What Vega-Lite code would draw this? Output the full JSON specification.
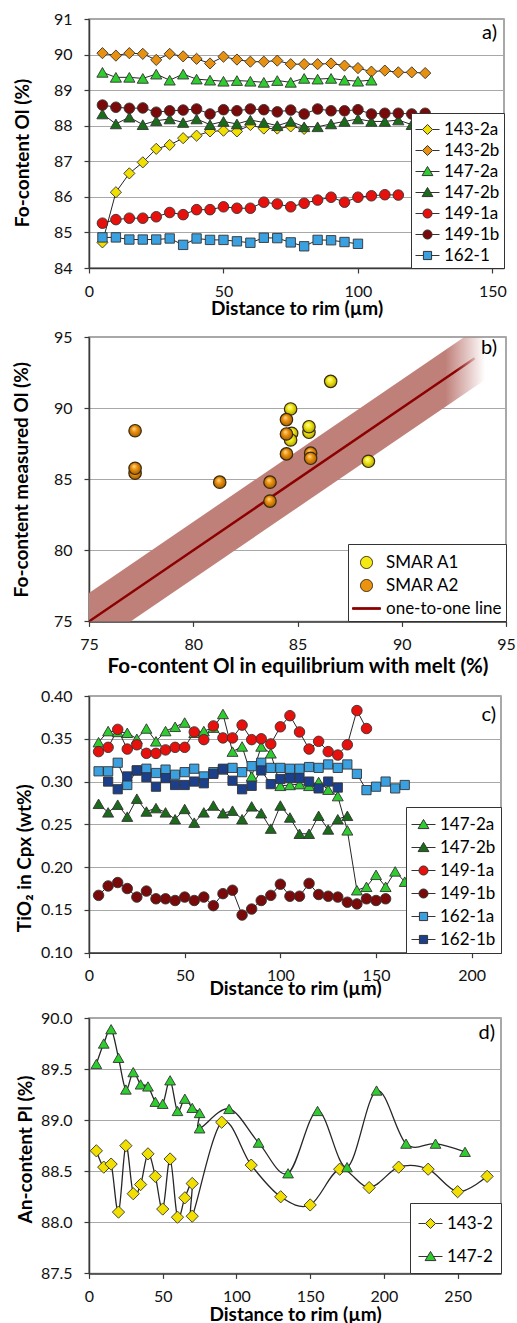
{
  "$schema": "https://vega.github.io/schema/vega-lite/v6.json",
  "background": "white",
  "padding": {"left": 11, "top": 10, "right": 4, "bottom": 0},
  "spacing": 9,
  "resolve": {
    "scale": {"x": "independent", "y": "independent", "fill": "independent", "shape": "independent", "stroke": "independent"},
    "axis": {"x": "independent", "y": "independent"},
    "legend": {"fill": "independent", "shape": "independent", "stroke": "independent"}
  },
  "config": {
    "font": "Lato",
    "view": {"stroke": "#8c8c8c", "strokeWidth": 1.5},
    "axis": {
      "labelFont": "Lato", "labelFontSize": 16, "labelColor": "#111",
      "titleFont": "Lato", "titleFontSize": 19, "titleFontWeight": "bold", "titleColor": "#000",
      "domainColor": "#3a3a3a", "domainWidth": 1.5, "tickColor": "#3a3a3a", "tickSize": 5, "tickWidth": 1.2,
      "gridColor": "#a8a8a8", "gridWidth": 1.2, "labelOverlap": false
    },
    "axisX": {"grid": false, "labelPadding": 10, "labelFlush": false, "titleBaseline": "middle"},
    "axisY": {"grid": true, "labelPadding": 12, "titleBaseline": "middle"},
    "legend": {"labelFont": "Lato", "labelColor": "#000", "fillColor": "white", "strokeColor": "#333", "symbolStrokeColor": "#333", "symbolStrokeWidth": 1, "symbolSize": 576, "labelOffset": 4, "title": null, "orient": "bottom-right", "offset": 0},
    "title": {"font": "Lato", "fontSize": 20, "fontWeight": "normal", "color": "#000"}
  },
  "vconcat": [
    {
      "width": 415, "height": 249,
      "title": {"text": "a)", "orient": "top", "anchor": "end", "frame": "group", "offset": -42, "baseline": "middle", "dx": -7},
      "data": {"values": [
        {"s":"143-2a","x":5,"v":84.72},{"s":"143-2a","x":10,"v":86.13},{"s":"143-2a","x":15,"v":86.66},{"s":"143-2a","x":20,"v":86.97},{"s":"143-2a","x":25,"v":87.35},{"s":"143-2a","x":30,"v":87.46},{"s":"143-2a","x":35,"v":87.65},{"s":"143-2a","x":40,"v":87.72},{"s":"143-2a","x":45,"v":87.84},{"s":"143-2a","x":50,"v":87.86},{"s":"143-2a","x":55,"v":87.84},{"s":"143-2a","x":60,"v":88.02},{"s":"143-2a","x":65,"v":87.92},{"s":"143-2a","x":70,"v":87.92},{"s":"143-2a","x":75,"v":87.98},{"s":"143-2a","x":80,"v":87.91},
        {"s":"143-2b","x":5,"v":90.04},{"s":"143-2b","x":10,"v":89.97},{"s":"143-2b","x":15,"v":90.04},{"s":"143-2b","x":20,"v":90.02},{"s":"143-2b","x":25,"v":89.85},{"s":"143-2b","x":30,"v":90.02},{"s":"143-2b","x":35,"v":89.95},{"s":"143-2b","x":40,"v":89.88},{"s":"143-2b","x":45,"v":89.75},{"s":"143-2b","x":50,"v":89.94},{"s":"143-2b","x":55,"v":89.86},{"s":"143-2b","x":60,"v":89.8},{"s":"143-2b","x":65,"v":89.8},{"s":"143-2b","x":70,"v":89.83},{"s":"143-2b","x":75,"v":89.73},{"s":"143-2b","x":80,"v":89.73},{"s":"143-2b","x":85,"v":89.73},{"s":"143-2b","x":90,"v":89.75},{"s":"143-2b","x":95,"v":89.69},{"s":"143-2b","x":100,"v":89.62},{"s":"143-2b","x":105,"v":89.52},{"s":"143-2b","x":110,"v":89.55},{"s":"143-2b","x":115,"v":89.5},{"s":"143-2b","x":120,"v":89.5},{"s":"143-2b","x":125,"v":89.48},
        {"s":"147-2a","x":5,"v":89.5},{"s":"147-2a","x":10,"v":89.36},{"s":"147-2a","x":15,"v":89.36},{"s":"147-2a","x":20,"v":89.33},{"s":"147-2a","x":25,"v":89.45},{"s":"147-2a","x":30,"v":89.28},{"s":"147-2a","x":35,"v":89.45},{"s":"147-2a","x":40,"v":89.31},{"s":"147-2a","x":45,"v":89.28},{"s":"147-2a","x":50,"v":89.25},{"s":"147-2a","x":55,"v":89.27},{"s":"147-2a","x":60,"v":89.25},{"s":"147-2a","x":65,"v":89.22},{"s":"147-2a","x":70,"v":89.27},{"s":"147-2a","x":75,"v":89.22},{"s":"147-2a","x":80,"v":89.33},{"s":"147-2a","x":85,"v":89.31},{"s":"147-2a","x":90,"v":89.33},{"s":"147-2a","x":95,"v":89.28},{"s":"147-2a","x":100,"v":89.25},{"s":"147-2a","x":105,"v":89.28},
        {"s":"147-2b","x":5,"v":88.33},{"s":"147-2b","x":10,"v":88.05},{"s":"147-2b","x":15,"v":88.24},{"s":"147-2b","x":20,"v":88.03},{"s":"147-2b","x":25,"v":88.14},{"s":"147-2b","x":30,"v":88.19},{"s":"147-2b","x":35,"v":88.09},{"s":"147-2b","x":40,"v":88.19},{"s":"147-2b","x":45,"v":88.03},{"s":"147-2b","x":50,"v":88.12},{"s":"147-2b","x":55,"v":88.05},{"s":"147-2b","x":60,"v":88.16},{"s":"147-2b","x":65,"v":88.09},{"s":"147-2b","x":70,"v":88.0},{"s":"147-2b","x":75,"v":88.12},{"s":"147-2b","x":80,"v":87.97},{"s":"147-2b","x":85,"v":87.97},{"s":"147-2b","x":90,"v":88.05},{"s":"147-2b","x":95,"v":88.12},{"s":"147-2b","x":100,"v":88.19},{"s":"147-2b","x":105,"v":88.12},{"s":"147-2b","x":110,"v":88.12},{"s":"147-2b","x":115,"v":88.16},{"s":"147-2b","x":120,"v":88.03},
        {"s":"149-1a","x":5,"v":85.26},{"s":"149-1a","x":10,"v":85.36},{"s":"149-1a","x":15,"v":85.4},{"s":"149-1a","x":20,"v":85.4},{"s":"149-1a","x":25,"v":85.44},{"s":"149-1a","x":30,"v":85.56},{"s":"149-1a","x":35,"v":85.5},{"s":"149-1a","x":40,"v":85.64},{"s":"149-1a","x":45,"v":85.64},{"s":"149-1a","x":50,"v":85.72},{"s":"149-1a","x":55,"v":85.68},{"s":"149-1a","x":60,"v":85.68},{"s":"149-1a","x":65,"v":85.85},{"s":"149-1a","x":70,"v":85.8},{"s":"149-1a","x":75,"v":85.72},{"s":"149-1a","x":80,"v":85.82},{"s":"149-1a","x":85,"v":85.91},{"s":"149-1a","x":90,"v":85.99},{"s":"149-1a","x":95,"v":85.85},{"s":"149-1a","x":100,"v":85.99},{"s":"149-1a","x":105,"v":86.03},{"s":"149-1a","x":110,"v":86.06},{"s":"149-1a","x":115,"v":86.05},
        {"s":"149-1b","x":5,"v":88.58},{"s":"149-1b","x":10,"v":88.52},{"s":"149-1b","x":15,"v":88.49},{"s":"149-1b","x":20,"v":88.5},{"s":"149-1b","x":25,"v":88.38},{"s":"149-1b","x":30,"v":88.42},{"s":"149-1b","x":35,"v":88.44},{"s":"149-1b","x":40,"v":88.47},{"s":"149-1b","x":45,"v":88.33},{"s":"149-1b","x":50,"v":88.45},{"s":"149-1b","x":55,"v":88.42},{"s":"149-1b","x":60,"v":88.47},{"s":"149-1b","x":65,"v":88.45},{"s":"149-1b","x":70,"v":88.39},{"s":"149-1b","x":75,"v":88.44},{"s":"149-1b","x":80,"v":88.33},{"s":"149-1b","x":85,"v":88.47},{"s":"149-1b","x":90,"v":88.42},{"s":"149-1b","x":95,"v":88.42},{"s":"149-1b","x":100,"v":88.45},{"s":"149-1b","x":105,"v":88.33},{"s":"149-1b","x":110,"v":88.35},{"s":"149-1b","x":115,"v":88.35},{"s":"149-1b","x":120,"v":88.33},{"s":"149-1b","x":125,"v":88.35},
        {"s":"162-1","x":5,"v":84.86},{"s":"162-1","x":10,"v":84.86},{"s":"162-1","x":15,"v":84.8},{"s":"162-1","x":20,"v":84.8},{"s":"162-1","x":25,"v":84.8},{"s":"162-1","x":30,"v":84.83},{"s":"162-1","x":35,"v":84.65},{"s":"162-1","x":40,"v":84.83},{"s":"162-1","x":45,"v":84.79},{"s":"162-1","x":50,"v":84.79},{"s":"162-1","x":55,"v":84.75},{"s":"162-1","x":60,"v":84.71},{"s":"162-1","x":65,"v":84.85},{"s":"162-1","x":70,"v":84.84},{"s":"162-1","x":75,"v":84.72},{"s":"162-1","x":80,"v":84.61},{"s":"162-1","x":85,"v":84.79},{"s":"162-1","x":90,"v":84.78},{"s":"162-1","x":95,"v":84.73},{"s":"162-1","x":100,"v":84.68}
      ]},
      "encoding": {
        "x": {"field": "x", "type": "quantitative", "scale": {"domain": [0, 154.3], "nice": false}, "axis": {"values": [0, 50, 100, 150], "title": "Distance to rim (µm)", "titleY": 40}},
        "y": {"field": "v", "type": "quantitative", "scale": {"domain": [84, 91], "nice": false, "zero": false}, "axis": {"values": [84, 85, 86, 87, 88, 89, 90, 91], "format": "d", "title": "Fo-content Ol (%)", "titleX": -67, "titleY": 133.5}}
      },
      "layer": [
        {"mark": {"type": "line", "color": "#262626", "strokeWidth": 1}, "encoding": {"detail": {"field": "s"}}},
        {"transform": [{"filter": {"field": "s", "oneOf": ["143-2a", "143-2b"]}}],
         "mark": {"type": "point", "shape": "diamond", "size": 125, "filled": true, "opacity": 1, "stroke": "#333", "strokeWidth": 0.9},
         "encoding": {"fill": {"field": "s", "type": "nominal", "scale": {"domain": ["143-2a","143-2b","147-2a","147-2b","149-1a","149-1b","162-1"], "range": ["#f0df00","#e8900f","#2ecc2e","#1a6b1a","#e8100c","#7a0a0a","#3aa0e0"]}}}},
        {"transform": [{"filter": {"field": "s", "oneOf": ["147-2a", "147-2b"]}}],
         "mark": {"type": "point", "shape": "triangle-up", "size": 125, "filled": true, "opacity": 1, "stroke": "#333", "strokeWidth": 0.9},
         "encoding": {"fill": {"field": "s", "type": "nominal", "scale": {"domain": ["143-2a","143-2b","147-2a","147-2b","149-1a","149-1b","162-1"], "range": ["#f0df00","#e8900f","#2ecc2e","#1a6b1a","#e8100c","#7a0a0a","#3aa0e0"]}}}},
        {"transform": [{"filter": {"field": "s", "oneOf": ["149-1a", "149-1b"]}}],
         "mark": {"type": "point", "shape": "circle", "size": 112, "filled": true, "opacity": 1, "stroke": "#333", "strokeWidth": 0.9},
         "encoding": {"fill": {"field": "s", "type": "nominal", "scale": {"domain": ["143-2a","143-2b","147-2a","147-2b","149-1a","149-1b","162-1"], "range": ["#f0df00","#e8900f","#2ecc2e","#1a6b1a","#e8100c","#7a0a0a","#3aa0e0"]}}}},
        {"transform": [{"filter": {"field": "s", "oneOf": ["162-1"]}}],
         "mark": {"type": "point", "shape": "square", "size": 88, "filled": true, "opacity": 1, "stroke": "#333", "strokeWidth": 0.9},
         "encoding": {"fill": {"field": "s", "type": "nominal", "scale": {"domain": ["143-2a","143-2b","147-2a","147-2b","149-1a","149-1b","162-1"], "range": ["#f0df00","#e8900f","#2ecc2e","#1a6b1a","#e8100c","#7a0a0a","#3aa0e0"]}}}},
        {"mark": {"type": "point", "size": 0, "filled": true, "opacity": 1, "stroke": "#333", "strokeWidth": 1},
         "encoding": {
           "fill": {"field": "s", "type": "nominal", "scale": {"domain": ["143-2a","143-2b","147-2a","147-2b","149-1a","149-1b","162-1"], "range": ["#f0df00","#e8900f","#2ecc2e","#1a6b1a","#e8100c","#7a0a0a","#3aa0e0"]},
             "legend": {"padding": 4, "rowPadding": -4.4, "labelFontSize": 17}},
           "shape": {"field": "s", "type": "nominal",
             "scale": {"domain": ["143-2a","143-2b","147-2a","147-2b","149-1a","149-1b","162-1"], "range": [
               "M-1,0H-0.42M0.42,0H1M0,-0.42L0.42,0L0,0.42L-0.42,0Z",
               "M-1,0H-0.42M0.42,0H1M0,-0.42L0.42,0L0,0.42L-0.42,0Z",
               "M-1,0H-0.25M0.25,0H1M0,-0.42L0.45,0.34L-0.45,0.34Z",
               "M-1,0H-0.25M0.25,0H1M0,-0.42L0.45,0.34L-0.45,0.34Z",
               "M-1,0H-0.38M0.38,0H1M0.38,0A0.38,0.38,0,1,1,-0.38,0A0.38,0.38,0,1,1,0.38,0Z",
               "M-1,0H-0.38M0.38,0H1M0.38,0A0.38,0.38,0,1,1,-0.38,0A0.38,0.38,0,1,1,0.38,0Z",
               "M-1,0H-0.34M0.34,0H1M-0.34,-0.34H0.34V0.34H-0.34Z"]},
             "legend": {"padding": 4, "rowPadding": -4.4, "labelFontSize": 17}}
         }}
      ]
    },
    {
      "width": 417, "height": 284.4,
      "title": {"text": "b)", "orient": "top", "anchor": "end", "frame": "group", "offset": -39, "baseline": "middle", "dx": -9},
      "encoding": {
        "x": {"field": "fx", "type": "quantitative", "scale": {"domain": [75, 95], "nice": false, "zero": false}, "axis": {"values": [75, 80, 85, 90, 95], "title": "Fo-content Ol in equilibrium with melt (%)", "titleY": 45, "titleFontSize": 20.5}},
        "y": {"field": "fm", "type": "quantitative", "scale": {"domain": [75, 95], "nice": false, "zero": false}, "axis": {"values": [75, 80, 85, 90, 95], "title": "Fo-content  measured Ol (%)", "titleX": -68}}
      },
      "layer": [
        {"data": {"values": [{"fx": 75, "lo": 73, "hi": 77}, {"fx": 94, "lo": 92, "hi": 96}]},
         "mark": {"type": "area", "clip": true, "fill": {"gradient": "linear", "x1": 0, "y1": 0, "x2": 1, "y2": 0, "stops": [{"offset": 0, "color": "#c0807a"}, {"offset": 0.9, "color": "#c0807a"}, {"offset": 1, "color": "rgba(192,128,122,0)"}]}},
         "encoding": {"y": {"field": "lo", "type": "quantitative"}, "y2": {"field": "hi"}}},
        {"data": {"values": [{"fx": 75, "fm": 75}, {"fx": 93.5, "fm": 93.5}]},
         "mark": {"type": "line", "clip": true, "strokeWidth": 2.5, "stroke": {"gradient": "linear", "x1": 0, "y1": 0, "x2": 1, "y2": 0, "stops": [{"offset": 0, "color": "#8b0000"}, {"offset": 0.95, "color": "#8b0000"}, {"offset": 1, "color": "rgba(139,0,0,0.2)"}]}},
         "encoding": {}},
        {"data": {"name": "smar", "values": [
          {"g":"SMAR A2","fx":77.21,"fm":88.41},{"g":"SMAR A2","fx":77.21,"fm":85.42},{"g":"SMAR A2","fx":77.21,"fm":85.77},{"g":"SMAR A2","fx":81.27,"fm":84.79},{"g":"SMAR A2","fx":83.68,"fm":84.79},{"g":"SMAR A2","fx":83.68,"fm":83.46},
          {"g":"SMAR A1","fx":86.59,"fm":91.88},{"g":"SMAR A1","fx":84.67,"fm":89.94},{"g":"SMAR A1","fx":84.72,"fm":88.23},{"g":"SMAR A1","fx":84.67,"fm":87.76},{"g":"SMAR A1","fx":85.55,"fm":88.3},{"g":"SMAR A1","fx":85.55,"fm":88.69},{"g":"SMAR A1","fx":88.4,"fm":86.26},
          {"g":"SMAR A2","fx":84.47,"fm":89.19},{"g":"SMAR A2","fx":84.47,"fm":88.18},{"g":"SMAR A2","fx":84.47,"fm":86.78},{"g":"SMAR A2","fx":85.63,"fm":86.83},{"g":"SMAR A2","fx":85.63,"fm":86.47}
        ]},
         "transform": [{"filter": {"field": "g", "equal": "SMAR A1"}}],
         "mark": {"type": "point", "shape": "circle", "opacity": 1, "size": 155, "stroke": "#3a2a10", "strokeWidth": 1.2,
           "fill": {"gradient": "radial", "x1": 0.4, "y1": 0.32, "r1": 0, "x2": 0.5, "y2": 0.5, "r2": 0.55, "stops": [{"offset": 0, "color": "#fffcc0"}, {"offset": 0.4, "color": "#f4ec18"}, {"offset": 1, "color": "#a89c00"}]}},
         "encoding": {}},
        {"data": {"name": "smar"},
         "transform": [{"filter": {"field": "g", "equal": "SMAR A2"}}],
         "mark": {"type": "point", "shape": "circle", "opacity": 1, "size": 155, "stroke": "#3a2a10", "strokeWidth": 1.2,
           "fill": {"gradient": "radial", "x1": 0.4, "y1": 0.32, "r1": 0, "x2": 0.5, "y2": 0.5, "r2": 0.55, "stops": [{"offset": 0, "color": "#ffdca0"}, {"offset": 0.4, "color": "#f0960f"}, {"offset": 1, "color": "#9a5600"}]}},
         "encoding": {}},
        {"data": {"name": "smar"},
         "mark": {"type": "point", "filled": true, "opacity": 1, "size": 0, "strokeWidth": 1.2},
         "encoding": {
           "fill": {"field": "g", "type": "nominal", "scale": {"domain": ["SMAR A1", "SMAR A2", "one-to-one line"], "range": ["#f2ea12", "#eb930e", "#8b0000"]},
             "legend": {"padding": 4, "rowPadding": 0, "labelFontSize": 17, "symbolSize": 784, "labelOffset": 5}},
           "shape": {"field": "g", "type": "nominal", "scale": {"domain": ["SMAR A1", "SMAR A2", "one-to-one line"], "range": [
               "M0.43,0A0.43,0.43,0,1,1,-0.43,0A0.43,0.43,0,1,1,0.43,0Z",
               "M0.43,0A0.43,0.43,0,1,1,-0.43,0A0.43,0.43,0,1,1,0.43,0Z",
               "M-1,-0.06H1V0.06H-1Z"]},
             "legend": {"padding": 4, "rowPadding": 0, "labelFontSize": 17, "symbolSize": 784, "labelOffset": 5}},
           "stroke": {"field": "g", "type": "nominal", "scale": {"domain": ["SMAR A1", "SMAR A2", "one-to-one line"], "range": ["#3a2a10", "#3a2a10", "#8b0000"]},
             "legend": {"padding": 4, "rowPadding": 0, "labelFontSize": 17, "symbolSize": 784, "labelOffset": 5}}
         }}
      ]
    },
    {
      "width": 412, "height": 256.7,
      "title": {"text": "c)", "orient": "top", "anchor": "end", "frame": "group", "offset": -47, "baseline": "middle", "dx": -5},
      "data": {"values": [
        {"s":"147-2a","x":5,"v":0.346},{"s":"147-2a","x":10,"v":0.359},{"s":"147-2a","x":15,"v":0.358},{"s":"147-2a","x":20,"v":0.357},{"s":"147-2a","x":25,"v":0.35},{"s":"147-2a","x":30,"v":0.362},{"s":"147-2a","x":35,"v":0.347},{"s":"147-2a","x":40,"v":0.359},{"s":"147-2a","x":45,"v":0.364},{"s":"147-2a","x":50,"v":0.369},{"s":"147-2a","x":55,"v":0.357},{"s":"147-2a","x":60,"v":0.359},{"s":"147-2a","x":65,"v":0.363},{"s":"147-2a","x":70,"v":0.379},{"s":"147-2a","x":75,"v":0.335},{"s":"147-2a","x":80,"v":0.341},{"s":"147-2a","x":85,"v":0.306},{"s":"147-2a","x":90,"v":0.341},{"s":"147-2a","x":95,"v":0.333},{"s":"147-2a","x":100,"v":0.295},{"s":"147-2a","x":105,"v":0.296},{"s":"147-2a","x":110,"v":0.297},{"s":"147-2a","x":115,"v":0.295},{"s":"147-2a","x":120,"v":0.2995},{"s":"147-2a","x":125,"v":0.2905},{"s":"147-2a","x":130,"v":0.283},{"s":"147-2a","x":135,"v":0.243},{"s":"147-2a","x":140,"v":0.173},{"s":"147-2a","x":145,"v":0.177},{"s":"147-2a","x":150,"v":0.191},{"s":"147-2a","x":155,"v":0.177},{"s":"147-2a","x":160,"v":0.195},{"s":"147-2a","x":165,"v":0.183},
        {"s":"147-2b","x":5,"v":0.274},{"s":"147-2b","x":10,"v":0.264},{"s":"147-2b","x":15,"v":0.273},{"s":"147-2b","x":20,"v":0.259},{"s":"147-2b","x":25,"v":0.28},{"s":"147-2b","x":30,"v":0.265},{"s":"147-2b","x":35,"v":0.269},{"s":"147-2b","x":40,"v":0.264},{"s":"147-2b","x":45,"v":0.256},{"s":"147-2b","x":50,"v":0.268},{"s":"147-2b","x":55,"v":0.252},{"s":"147-2b","x":60,"v":0.264},{"s":"147-2b","x":65,"v":0.272},{"s":"147-2b","x":70,"v":0.263},{"s":"147-2b","x":75,"v":0.266},{"s":"147-2b","x":80,"v":0.256},{"s":"147-2b","x":85,"v":0.271},{"s":"147-2b","x":90,"v":0.263},{"s":"147-2b","x":95,"v":0.245},{"s":"147-2b","x":100,"v":0.272},{"s":"147-2b","x":105,"v":0.258},{"s":"147-2b","x":110,"v":0.239},{"s":"147-2b","x":115,"v":0.239},{"s":"147-2b","x":120,"v":0.26},{"s":"147-2b","x":125,"v":0.244},{"s":"147-2b","x":130,"v":0.256},{"s":"147-2b","x":135,"v":0.26},
        {"s":"149-1a","x":5,"v":0.335},{"s":"149-1a","x":10,"v":0.34},{"s":"149-1a","x":15,"v":0.361},{"s":"149-1a","x":20,"v":0.338},{"s":"149-1a","x":25,"v":0.343},{"s":"149-1a","x":30,"v":0.333},{"s":"149-1a","x":35,"v":0.333},{"s":"149-1a","x":40,"v":0.337},{"s":"149-1a","x":45,"v":0.34},{"s":"149-1a","x":50,"v":0.34},{"s":"149-1a","x":55,"v":0.358},{"s":"149-1a","x":60,"v":0.349},{"s":"149-1a","x":65,"v":0.365},{"s":"149-1a","x":70,"v":0.351},{"s":"149-1a","x":75,"v":0.351},{"s":"149-1a","x":80,"v":0.366},{"s":"149-1a","x":85,"v":0.349},{"s":"149-1a","x":90,"v":0.35},{"s":"149-1a","x":95,"v":0.344},{"s":"149-1a","x":100,"v":0.364},{"s":"149-1a","x":105,"v":0.377},{"s":"149-1a","x":110,"v":0.358},{"s":"149-1a","x":115,"v":0.338},{"s":"149-1a","x":120,"v":0.347},{"s":"149-1a","x":125,"v":0.335},{"s":"149-1a","x":130,"v":0.331},{"s":"149-1a","x":135,"v":0.343},{"s":"149-1a","x":140,"v":0.383},{"s":"149-1a","x":145,"v":0.362},
        {"s":"149-1b","x":5,"v":0.167},{"s":"149-1b","x":10,"v":0.178},{"s":"149-1b","x":15,"v":0.182},{"s":"149-1b","x":20,"v":0.175},{"s":"149-1b","x":25,"v":0.165},{"s":"149-1b","x":30,"v":0.172},{"s":"149-1b","x":35,"v":0.163},{"s":"149-1b","x":40,"v":0.163},{"s":"149-1b","x":45,"v":0.161},{"s":"149-1b","x":50,"v":0.165},{"s":"149-1b","x":55,"v":0.161},{"s":"149-1b","x":60,"v":0.165},{"s":"149-1b","x":65,"v":0.155},{"s":"149-1b","x":70,"v":0.169},{"s":"149-1b","x":75,"v":0.173},{"s":"149-1b","x":80,"v":0.144},{"s":"149-1b","x":85,"v":0.151},{"s":"149-1b","x":90,"v":0.161},{"s":"149-1b","x":95,"v":0.167},{"s":"149-1b","x":100,"v":0.18},{"s":"149-1b","x":105,"v":0.166},{"s":"149-1b","x":110,"v":0.166},{"s":"149-1b","x":115,"v":0.181},{"s":"149-1b","x":120,"v":0.168},{"s":"149-1b","x":125,"v":0.166},{"s":"149-1b","x":130,"v":0.165},{"s":"149-1b","x":135,"v":0.159},{"s":"149-1b","x":140,"v":0.157},{"s":"149-1b","x":145,"v":0.163},{"s":"149-1b","x":150,"v":0.161},{"s":"149-1b","x":155,"v":0.163},
        {"s":"162-1a","x":5,"v":0.312},{"s":"162-1a","x":10,"v":0.312},{"s":"162-1a","x":15,"v":0.322},{"s":"162-1a","x":20,"v":0.296},{"s":"162-1a","x":25,"v":0.313},{"s":"162-1a","x":30,"v":0.315},{"s":"162-1a","x":35,"v":0.31},{"s":"162-1a","x":40,"v":0.314},{"s":"162-1a","x":45,"v":0.308},{"s":"162-1a","x":50,"v":0.311},{"s":"162-1a","x":55,"v":0.315},{"s":"162-1a","x":60,"v":0.306},{"s":"162-1a","x":65,"v":0.311},{"s":"162-1a","x":70,"v":0.314},{"s":"162-1a","x":75,"v":0.316},{"s":"162-1a","x":80,"v":0.311},{"s":"162-1a","x":85,"v":0.318},{"s":"162-1a","x":90,"v":0.322},{"s":"162-1a","x":95,"v":0.316},{"s":"162-1a","x":100,"v":0.316},{"s":"162-1a","x":105,"v":0.315},{"s":"162-1a","x":110,"v":0.315},{"s":"162-1a","x":115,"v":0.317},{"s":"162-1a","x":120,"v":0.316},{"s":"162-1a","x":125,"v":0.32},{"s":"162-1a","x":130,"v":0.316},{"s":"162-1a","x":135,"v":0.32},{"s":"162-1a","x":140,"v":0.309},{"s":"162-1a","x":145,"v":0.29},{"s":"162-1a","x":150,"v":0.294},{"s":"162-1a","x":155,"v":0.3},{"s":"162-1a","x":160,"v":0.292},{"s":"162-1a","x":165,"v":0.296},
        {"s":"162-1b","x":10,"v":0.3},{"s":"162-1b","x":15,"v":0.291},{"s":"162-1b","x":20,"v":0.306},{"s":"162-1b","x":25,"v":0.313},{"s":"162-1b","x":30,"v":0.305},{"s":"162-1b","x":35,"v":0.294},{"s":"162-1b","x":40,"v":0.304},{"s":"162-1b","x":45,"v":0.296},{"s":"162-1b","x":50,"v":0.296},{"s":"162-1b","x":55,"v":0.3},{"s":"162-1b","x":60,"v":0.298},{"s":"162-1b","x":65,"v":0.309},{"s":"162-1b","x":70,"v":0.315},{"s":"162-1b","x":75,"v":0.301},{"s":"162-1b","x":80,"v":0.291},{"s":"162-1b","x":85,"v":0.295},{"s":"162-1b","x":90,"v":0.313},{"s":"162-1b","x":95,"v":0.297},{"s":"162-1b","x":100,"v":0.303},{"s":"162-1b","x":105,"v":0.304},{"s":"162-1b","x":110,"v":0.304},{"s":"162-1b","x":115,"v":0.3},{"s":"162-1b","x":120,"v":0.292},{"s":"162-1b","x":125,"v":0.3},{"s":"162-1b","x":130,"v":0.293}
      ]},
      "encoding": {
        "x": {"field": "x", "type": "quantitative", "scale": {"domain": [0, 215.3], "nice": false}, "axis": {"values": [0, 50, 100, 150, 200], "title": "Distance to rim (µm)", "titleY": 36}},
        "y": {"field": "v", "type": "quantitative", "scale": {"domain": [0.1, 0.4], "nice": false, "zero": false}, "axis": {"values": [0.1, 0.15, 0.2, 0.25, 0.3, 0.35, 0.4], "format": ".2f", "title": "TiO₂  in Cpx (wt%)", "titleX": -65, "titleY": 161.7}}
      },
      "layer": [
        {"mark": {"type": "line", "color": "#262626", "strokeWidth": 1}, "encoding": {"detail": {"field": "s"}}},
        {"transform": [{"filter": {"field": "s", "oneOf": ["147-2a", "147-2b"]}}],
         "mark": {"type": "point", "shape": "triangle-up", "size": 120, "filled": true, "opacity": 1, "stroke": "#333", "strokeWidth": 0.9},
         "encoding": {"fill": {"field": "s", "type": "nominal", "scale": {"domain": ["147-2a","147-2b","149-1a","149-1b","162-1a","162-1b"], "range": ["#2ecc2e","#1a6b1a","#e8100c","#7a0a0a","#3aa0e0","#1c3f8c"]}}}},
        {"transform": [{"filter": {"field": "s", "oneOf": ["149-1a", "149-1b"]}}],
         "mark": {"type": "point", "shape": "circle", "size": 110, "filled": true, "opacity": 1, "stroke": "#333", "strokeWidth": 0.9},
         "encoding": {"fill": {"field": "s", "type": "nominal", "scale": {"domain": ["147-2a","147-2b","149-1a","149-1b","162-1a","162-1b"], "range": ["#2ecc2e","#1a6b1a","#e8100c","#7a0a0a","#3aa0e0","#1c3f8c"]}}}},
        {"transform": [{"filter": {"field": "s", "oneOf": ["162-1a", "162-1b"]}}],
         "mark": {"type": "point", "shape": "square", "size": 85, "filled": true, "opacity": 1, "stroke": "#333", "strokeWidth": 0.9},
         "encoding": {"fill": {"field": "s", "type": "nominal", "scale": {"domain": ["147-2a","147-2b","149-1a","149-1b","162-1a","162-1b"], "range": ["#2ecc2e","#1a6b1a","#e8100c","#7a0a0a","#3aa0e0","#1c3f8c"]}}}},
        {"mark": {"type": "point", "size": 0, "filled": true, "opacity": 1, "stroke": "#333", "strokeWidth": 1},
         "encoding": {
           "fill": {"field": "s", "type": "nominal", "scale": {"domain": ["147-2a","147-2b","149-1a","149-1b","162-1a","162-1b"], "range": ["#2ecc2e","#1a6b1a","#e8100c","#7a0a0a","#3aa0e0","#1c3f8c"]},
             "legend": {"padding": 5, "rowPadding": 2, "labelFontSize": 17}},
           "shape": {"field": "s", "type": "nominal",
             "scale": {"domain": ["147-2a","147-2b","149-1a","149-1b","162-1a","162-1b"], "range": [
               "M-1,0H-0.25M0.25,0H1M0,-0.42L0.45,0.34L-0.45,0.34Z",
               "M-1,0H-0.25M0.25,0H1M0,-0.42L0.45,0.34L-0.45,0.34Z",
               "M-1,0H-0.38M0.38,0H1M0.38,0A0.38,0.38,0,1,1,-0.38,0A0.38,0.38,0,1,1,0.38,0Z",
               "M-1,0H-0.38M0.38,0H1M0.38,0A0.38,0.38,0,1,1,-0.38,0A0.38,0.38,0,1,1,0.38,0Z",
               "M-1,0H-0.34M0.34,0H1M-0.34,-0.34H0.34V0.34H-0.34Z",
               "M-1,0H-0.34M0.34,0H1M-0.34,-0.34H0.34V0.34H-0.34Z"]},
             "legend": {"padding": 5, "rowPadding": 2, "labelFontSize": 17}}
         }}
      ]
    },
    {
      "width": 412, "height": 255.4,
      "title": {"text": "d)", "orient": "top", "anchor": "end", "frame": "group", "offset": -43, "baseline": "middle", "dx": -6},
      "data": {"values": [
        {"s":"143-2","x":5,"v":88.7},{"s":"143-2","x":10,"v":88.54},{"s":"143-2","x":15,"v":88.57},{"s":"143-2","x":20,"v":88.1},{"s":"143-2","x":25,"v":88.75},{"s":"143-2","x":30,"v":88.28},{"s":"143-2","x":35,"v":88.37},{"s":"143-2","x":40,"v":88.67},{"s":"143-2","x":45,"v":88.45},{"s":"143-2","x":50,"v":88.13},{"s":"143-2","x":55,"v":88.62},{"s":"143-2","x":60,"v":88.05},{"s":"143-2","x":65,"v":88.24},{"s":"143-2","x":70,"v":88.38},{"s":"143-2","x":70,"v":88.06},{"s":"143-2","x":90,"v":88.98},{"s":"143-2","x":110,"v":88.56},{"s":"143-2","x":130,"v":88.25},{"s":"143-2","x":150,"v":88.17},{"s":"143-2","x":170,"v":88.52},{"s":"143-2","x":190,"v":88.34},{"s":"143-2","x":210,"v":88.54},{"s":"143-2","x":230,"v":88.52},{"s":"143-2","x":250,"v":88.3},{"s":"143-2","x":270,"v":88.45},
        {"s":"147-2","x":5,"v":89.55},{"s":"147-2","x":10,"v":89.75},{"s":"147-2","x":15,"v":89.89},{"s":"147-2","x":20,"v":89.61},{"s":"147-2","x":25,"v":89.3},{"s":"147-2","x":30,"v":89.47},{"s":"147-2","x":35,"v":89.35},{"s":"147-2","x":40,"v":89.33},{"s":"147-2","x":45,"v":89.18},{"s":"147-2","x":50,"v":89.16},{"s":"147-2","x":55,"v":89.39},{"s":"147-2","x":60,"v":89.09},{"s":"147-2","x":65,"v":89.21},{"s":"147-2","x":70,"v":89.12},{"s":"147-2","x":75,"v":89.07},{"s":"147-2","x":75,"v":88.92},{"s":"147-2","x":95,"v":89.11},{"s":"147-2","x":115,"v":88.78},{"s":"147-2","x":135,"v":88.48},{"s":"147-2","x":155,"v":89.09},{"s":"147-2","x":175,"v":88.54},{"s":"147-2","x":195,"v":89.29},{"s":"147-2","x":215,"v":88.77},{"s":"147-2","x":235,"v":88.77},{"s":"147-2","x":255,"v":88.69}
      ]},
      "encoding": {
        "x": {"field": "x", "type": "quantitative", "scale": {"domain": [0, 279.4], "nice": false}, "axis": {"values": [0, 50, 100, 150, 200, 250], "title": "Distance to rim (µm)", "titleY": 41}},
        "y": {"field": "v", "type": "quantitative", "scale": {"domain": [87.5, 90], "nice": false, "zero": false}, "axis": {"values": [87.5, 88, 88.5, 89, 89.5, 90], "format": ".1f", "title": "An-content Pl (%)", "titleX": -64, "titleY": 131}}
      },
      "layer": [
        {"mark": {"type": "line", "color": "#262626", "strokeWidth": 1.3, "interpolate": "cardinal"}, "encoding": {"detail": {"field": "s"}, "order": {"value": null}}},
        {"transform": [{"filter": {"field": "s", "oneOf": ["143-2"]}}],
         "mark": {"type": "point", "shape": "diamond", "size": 150, "filled": true, "opacity": 1, "stroke": "#333", "strokeWidth": 0.9},
         "encoding": {"fill": {"field": "s", "type": "nominal", "scale": {"domain": ["143-2","147-2"], "range": ["#f0df00","#2ecc2e"]}}}},
        {"transform": [{"filter": {"field": "s", "oneOf": ["147-2"]}}],
         "mark": {"type": "point", "shape": "triangle-up", "size": 115, "filled": true, "opacity": 1, "stroke": "#333", "strokeWidth": 0.9},
         "encoding": {"fill": {"field": "s", "type": "nominal", "scale": {"domain": ["143-2","147-2"], "range": ["#f0df00","#2ecc2e"]}}}},
        {"mark": {"type": "point", "size": 0, "filled": true, "opacity": 1, "stroke": "#333", "strokeWidth": 1},
         "encoding": {
           "fill": {"field": "s", "type": "nominal", "scale": {"domain": ["143-2","147-2"], "range": ["#f0df00","#2ecc2e"]},
             "legend": {"padding": 8, "rowPadding": 12, "labelFontSize": 17}},
           "shape": {"field": "s", "type": "nominal",
             "scale": {"domain": ["143-2","147-2"], "range": [
               "M-1,0H-0.42M0.42,0H1M0,-0.42L0.42,0L0,0.42L-0.42,0Z",
               "M-1,0H-0.25M0.25,0H1M0,-0.42L0.45,0.34L-0.45,0.34Z"]},
             "legend": {"padding": 8, "rowPadding": 12, "labelFontSize": 17}}
         }}
      ]
    }
  ]
}
